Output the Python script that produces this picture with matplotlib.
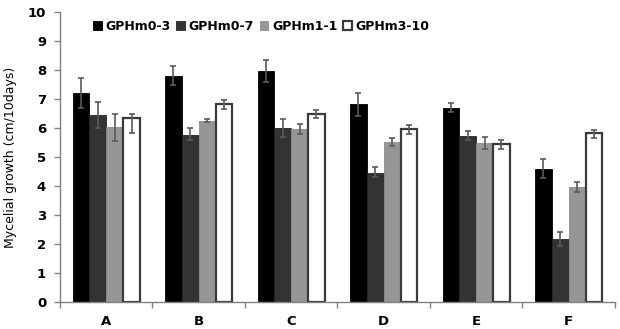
import matplotlib
matplotlib.use("Agg")
import matplotlib.pyplot as plt
import numpy as np

categories = ["A", "B", "C", "D", "E", "F"]
series = ["GPHm0-3", "GPHm0-7", "GPHm1-1", "GPHm3-10"]
values = {
    "GPHm0-3": [7.20, 7.80, 7.97, 6.82, 6.69, 4.60],
    "GPHm0-7": [6.45, 5.77, 5.99, 4.46, 5.74, 2.16],
    "GPHm1-1": [6.02, 6.24, 5.95, 5.51, 5.49, 3.96],
    "GPHm3-10": [6.36, 6.82, 6.50, 5.97, 5.44, 5.83],
}
err_lo = {
    "GPHm0-3": [0.52, 0.30, 0.37, 0.41, 0.14, 0.34],
    "GPHm0-7": [0.46, 0.18, 0.29, 0.16, 0.17, 0.22],
    "GPHm1-1": [0.46, 0.04, 0.16, 0.13, 0.20, 0.17],
    "GPHm3-10": [0.52, 0.16, 0.16, 0.17, 0.18, 0.17],
}
err_hi = {
    "GPHm0-3": [0.53, 0.33, 0.39, 0.40, 0.16, 0.32],
    "GPHm0-7": [0.46, 0.24, 0.32, 0.18, 0.17, 0.25],
    "GPHm1-1": [0.48, 0.06, 0.19, 0.13, 0.20, 0.17],
    "GPHm3-10": [0.14, 0.13, 0.12, 0.14, 0.15, 0.11],
}
face = {"GPHm0-3": "#000000", "GPHm0-7": "#333333", "GPHm1-1": "#969696", "GPHm3-10": "#ffffff"}
edge = {"GPHm0-3": "#000000", "GPHm0-7": "#262626", "GPHm1-1": "#8c8c8c", "GPHm3-10": "#3a3a3a"}

fig = plt.figure(figsize=(6.2, 3.29), dpi=100)
ax = fig.add_axes([0.0968, 0.082, 0.895, 0.8815])

x = np.arange(len(categories))
w = 0.182
for i, s in enumerate(series):
    pos = x + (i - 1.5) * w
    ax.bar(pos, values[s], width=w, color=face[s], edgecolor=edge[s],
           linewidth=1.6 if s == "GPHm3-10" else 0.6, label=s, zorder=2)
    ax.errorbar(pos, values[s], yerr=[err_lo[s], err_hi[s]], fmt="none",
                ecolor="#5a5a5a", elinewidth=1.2, capsize=2.5, capthick=1.2, zorder=3)

ax.set_xlim(-0.5, len(categories) - 0.5)
ax.set_ylim(0, 10)
ax.set_yticks(range(0, 11))
ax.set_yticklabels([str(v) for v in range(0, 11)], fontweight="bold", fontsize=9.5)
ax.set_xticks(x)
ax.set_xticklabels(categories, fontweight="bold", fontsize=9.5)
ax.tick_params(axis="x", length=0, pad=9)
ax.set_xticks(np.arange(-0.5, len(categories)), minor=True)
ax.tick_params(axis="x", which="minor", length=4, color="#808080", width=1)
ax.tick_params(axis="y", length=4, color="#808080", width=1, pad=6)
for sp in ["top", "right"]:
    ax.spines[sp].set_visible(False)
for sp in ["left", "bottom"]:
    ax.spines[sp].set_color("#808080")
    ax.spines[sp].set_linewidth(1)
ax.set_ylabel("Mycelial growth (cm/10days)", fontsize=9, labelpad=8)

leg = ax.legend(loc="upper left", bbox_to_anchor=(0.05, 0.99), ncol=4, frameon=False,
                prop={"weight": "bold", "size": 9}, handlelength=0.7, handleheight=0.7,
                handletextpad=0.3, columnspacing=0.45, borderaxespad=0)

fig.savefig("out.png", dpi=100)
